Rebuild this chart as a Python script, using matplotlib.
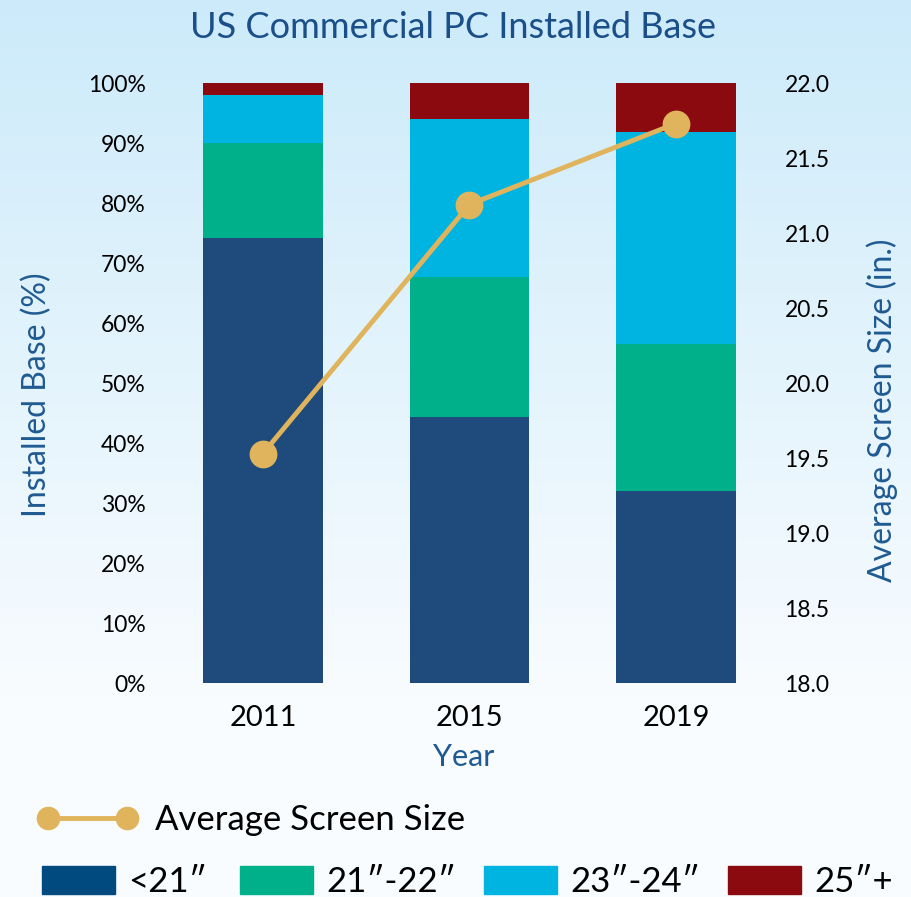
import numpy as np
import matplotlib.pyplot as plt
from matplotlib.patches import Patch
from matplotlib.lines import Line2D
from matplotlib.legend_handler import HandlerLine2D

# data
years = ["2011", "2015", "2019"]
size_lt21 = [74.2, 44.3, 32.0]
size_21_22 = [15.8, 23.4, 24.5]
size_23_24 = [8.0, 26.3, 35.3]
size_25plus = [2.0, 6.0, 8.2]
avg_screen = [19.53, 21.19, 21.73]

seg_names = ["<21\u2033", "21\u2033-22\u2033", "23\u2033-24\u2033", "25\u2033+"]
seg_colors = ["#1F4B7C", "#00B08A", "#00B4E1", "#8B0A0F"]
legend_colors = ["#004A80", "#00B08A", "#00B4E1", "#8B0A0F"]
line_color = "#E0B45C"
blue_text = "#1F5A92"

plt.rcParams["font.family"] = ["Lato", "DejaVu Sans"]

fig = plt.figure(figsize=(9.11, 8.97), dpi=100)
W, H = 911, 897

# soft blue background fading to white
bg = fig.add_axes([0, 0, 1, 1], zorder=-10)
grad = np.linspace(0, 1, 256).reshape(-1, 1)
top = np.array([0.80, 0.92, 0.98])
bot = np.array([0.98, 0.99, 1.0])
img = top + (bot - top) * np.clip(grad * 1.25, 0, 1)[..., None]
bg.imshow(img, aspect="auto", extent=[0, 1, 0, 1])
bg.axis("off")

ax = fig.add_axes([175 / W, 1 - 683 / H, 590 / W, 600 / H])
ax.patch.set_alpha(0)

x = np.arange(len(years))
segs = [size_lt21, size_21_22, size_23_24, size_25plus]
bottom = np.zeros(len(years))
for vals, col, name in zip(segs, seg_colors, seg_names):
    ax.bar(x, vals, width=0.58, bottom=bottom, color=col, label=name, zorder=2)
    bottom += np.array(vals)

ax.set_xlim(-0.426, 2.431)
ax.set_ylim(0, 100)
ax.set_yticks(np.arange(0, 101, 10))
ax.set_yticklabels([f"{v}%" for v in range(0, 101, 10)])
ax.set_xticks(x)
ax.set_xticklabels(years)
for s in ax.spines.values():
    s.set_visible(False)
ax.tick_params(axis="y", length=0, pad=21, labelsize=16.5, labelcolor="black")
ax.tick_params(axis="x", length=0, pad=16, labelsize=21, labelcolor="black")
ax.set_ylabel("Installed Base (%)", color=blue_text, fontsize=23)
ax.yaxis.set_label_coords((52 - 175) / 590, 0.48)
ax.set_xlabel("Year", color=blue_text, fontsize=22)
ax.xaxis.set_label_coords(0.49, -0.1)

ax2 = ax.twinx()
ax2.set_position(ax.get_position())
ax2.plot(x, avg_screen, color=line_color, lw=3.5, marker="o", markersize=19, zorder=3)
ax2.set_ylim(18, 22)
ax2.set_yticks(np.arange(18, 22.01, 0.5))
ax2.set_yticklabels([f"{v:.1f}" for v in np.arange(18, 22.01, 0.5)])
for s in ax2.spines.values():
    s.set_visible(False)
ax2.tick_params(axis="y", length=0, pad=14, labelsize=16.5, labelcolor="black")
ax2.set_ylabel("Average Screen Size (in.)", color=blue_text, fontsize=23)
ax2.yaxis.set_label_coords((866 - 175) / 590, 0.455)

fig.text(453 / W, 1 - 27 / H, "US Commercial PC Installed Base", ha="center", va="center",
         fontsize=26, color="#1A4F8A")

# legend: line on its own row
line_handle = Line2D([], [], color=line_color, lw=3.5, marker="o", markersize=16)
fig.legend([line_handle], ["Average Screen Size"], loc="center left",
           bbox_to_anchor=(48 / W, 1 - 820 / H), frameon=False, fontsize=25,
           handlelength=2.28, handletextpad=0.8, numpoints=2, borderpad=0,
           borderaxespad=0, handler_map={Line2D: HandlerLine2D(marker_pad=0)})

# legend: one entry per bar colour
patch_left = [42, 240, 484, 728]
for name, col, px in zip(seg_names, legend_colors, patch_left):
    fig.legend([Patch(color=col)], [name], loc="center left",
               bbox_to_anchor=(px / W, 1 - 882 / H), frameon=False, fontsize=25,
               handlelength=2.1, handleheight=0.85, handletextpad=0.38,
               borderpad=0, borderaxespad=0)

fig.savefig("out.png", dpi=100)
